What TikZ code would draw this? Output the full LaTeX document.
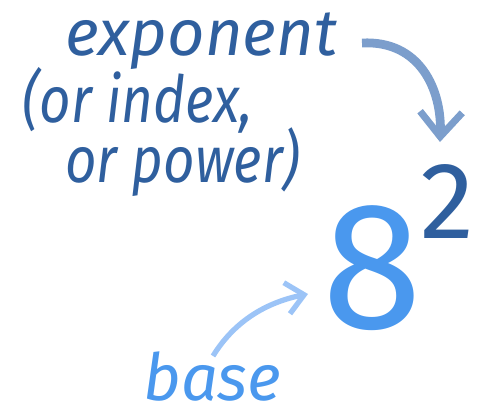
\documentclass[tikz,border=0pt]{standalone}
\usepackage{fontspec}
\setmainfont{Fira Sans}
\usetikzlibrary{arrows.meta}
\definecolor{inkdark}{HTML}{2F5F9E}
\definecolor{inkpale}{HTML}{7C9ECC}
\definecolor{inkbright}{HTML}{4A98EE}
\definecolor{inklight}{HTML}{9CC4F7}

\begin{document}
\begin{tikzpicture}[x=0.2mm,y=-0.2mm]
\useasboundingbox (0,0) rectangle (487,419);
\begin{scope}[every node/.style={inner sep=0pt,anchor=base west,text=inkdark,
                                 font=\fontsize{37}{37}\selectfont\itshape}]
    \node (exponent) at (65,55) {exponent};
    \node (index) at (22,122) {\scalebox{0.84}[1]{(or index,}};
    \node (power) at (65,182) {\scalebox{0.84}[1]{or power)}};
\end{scope}
\node [inner sep=0pt,anchor=base west,text=inkdark,
       font=\fontsize{62}{62}\selectfont] (two) at (420,238) {2};
\node [inner sep=0pt,anchor=base west,text=inkbright,
       font=\fontsize{103}{103}\selectfont] (eight) at (322,328) {8};
\node [inner sep=0pt,anchor=base west,text=inkbright,
       font=\fontsize{37}{37}\selectfont\itshape] (base) at (143,400) {base};
\coordinate (exp_start) at (362,43);
\coordinate (exp_tip) at (440,142);
\coordinate (base_start) at (213,356);
\coordinate (base_tip) at (308,294);
\begin{scope}[exp_arrow/.style={draw=inkpale,line width=5pt,
                 -{Straight Barb[length=14pt,width=24pt,line width=4pt]}},
              base_arrow/.style={draw=inklight,line width=3pt,
                 -{Straight Barb[length=10pt,width=18pt,line width=3pt]}}]
    \draw [exp_arrow] (exp_start) .. controls (420,40) and (442,90) .. (exp_tip);
    \draw [base_arrow] (base_start) .. controls (235,320) and (268,302) .. (base_tip);
\end{scope}
\end{tikzpicture}
\end{document}
